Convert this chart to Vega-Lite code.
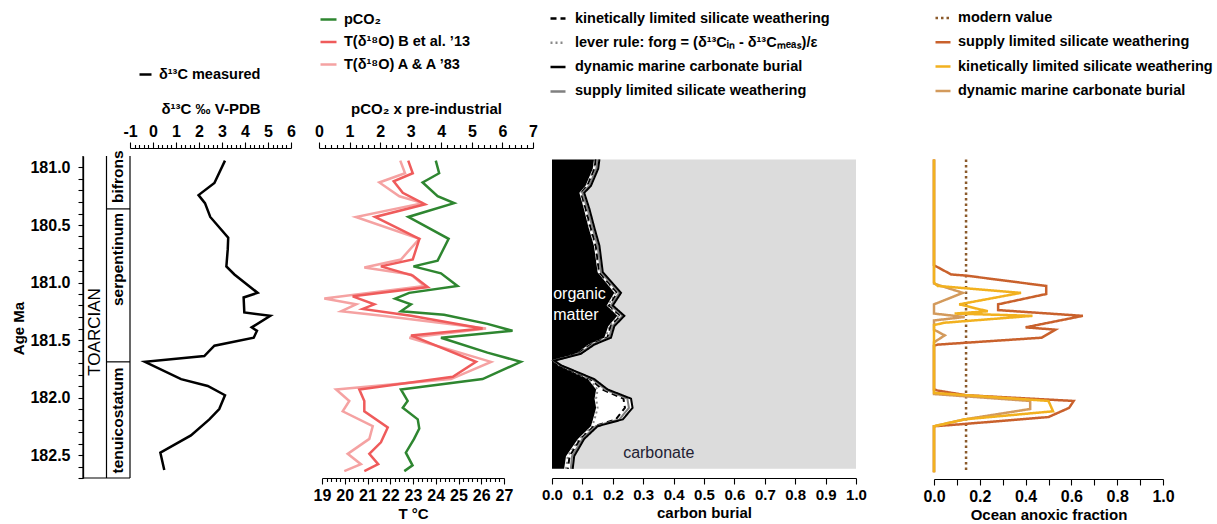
{
  "$schema": "https://vega.github.io/schema/vega-lite/v6.json",
  "background": "white",
  "padding": {"left": 11, "top": 9, "right": 5, "bottom": 2},
  "bounds": "flush",
  "spacing": 0,
  "config": {
    "font": "Liberation Sans",
    "view": {"stroke": null},
    "axis": {"grid": false, "labelFontSize": 16, "labelFontWeight": "bold", "labelColor": "#000", "titleFontSize": 15, "titleFontWeight": "bold", "titleColor": "#000", "domainColor": "#000", "tickColor": "#000", "domainWidth": 1.2, "tickWidth": 1.1, "labelFlush": false, "labelOverlap": false},
    "legend": {"labelFontSize": 14.5, "labelFontWeight": "bold", "labelColor": "#000", "padding": 0, "labelLimit": 500, "symbolStrokeWidth": 3, "symbolType": "stroke", "labelOffset": 6},
    "line": {"strokeWidth": 2.5}
  },
  "resolve": {"scale": {"color": "independent", "strokeDash": "independent"}, "legend": {"color": "independent", "strokeDash": "independent"}},
  "datasets": {
    "strat": [
      {"x": 0, "x2": 0, "age": 179.9, "age2": 182.7},
      {"x": 1, "x2": 1, "age": 179.9, "age2": 182.7},
      {"x": 2, "x2": 2, "age": 179.9, "age2": 182.7},
      {"x": 1, "x2": 2, "age": 180.36, "age2": 180.36},
      {"x": 1, "x2": 2, "age": 181.69, "age2": 181.69},
      {"x": 0, "x2": 2, "age": 182.7, "age2": 182.7}
    ],
    "era": [{"x": 0.5, "age": 181.43, "label": "TOARCIAN"}],
    "zones": [
      {"x": 1.5, "age": 180.08, "label": "bifrons"},
      {"x": 1.5, "age": 180.8, "label": "serpentinum"},
      {"x": 1.5, "age": 182.2, "label": "tenuicostatum"}
    ],
    "d13c": [
      {"age": 179.94, "v": 3.13}, {"age": 180.135, "v": 2.67}, {"age": 180.24, "v": 1.98}, {"age": 180.31, "v": 2.26},
      {"age": 180.43, "v": 2.49}, {"age": 180.61, "v": 3.27}, {"age": 180.71, "v": 3.25}, {"age": 180.86, "v": 3.19},
      {"age": 180.93, "v": 3.54}, {"age": 181.09, "v": 4.55}, {"age": 181.13, "v": 3.94}, {"age": 181.26, "v": 3.97},
      {"age": 181.29, "v": 5.1}, {"age": 181.39, "v": 4.29}, {"age": 181.42, "v": 4.52}, {"age": 181.48, "v": 4.38},
      {"age": 181.55, "v": 2.67}, {"age": 181.64, "v": 2.23}, {"age": 181.69, "v": -0.35}, {"age": 181.84, "v": 1.22},
      {"age": 181.9, "v": 2.38}, {"age": 181.98, "v": 3.13}, {"age": 182.1, "v": 2.88}, {"age": 182.19, "v": 2.45},
      {"age": 182.33, "v": 1.65}, {"age": 182.48, "v": 0.32}, {"age": 182.63, "v": 0.49}
    ],
    "temp": [
      {"s": "T(δ¹⁸O) A & A ’83", "age": 179.94, "T": 22.44}, {"s": "T(δ¹⁸O) A & A ’83", "age": 180.05, "T": 22.65},
      {"s": "T(δ¹⁸O) A & A ’83", "age": 180.13, "T": 21.52}, {"s": "T(δ¹⁸O) A & A ’83", "age": 180.25, "T": 22.4},
      {"s": "T(δ¹⁸O) A & A ’83", "age": 180.31, "T": 23.43}, {"s": "T(δ¹⁸O) A & A ’83", "age": 180.43, "T": 20.49},
      {"s": "T(δ¹⁸O) A & A ’83", "age": 180.62, "T": 23.28}, {"s": "T(δ¹⁸O) A & A ’83", "age": 180.8, "T": 22.47},
      {"s": "T(δ¹⁸O) A & A ’83", "age": 180.87, "T": 20.86}, {"s": "T(δ¹⁸O) A & A ’83", "age": 180.93, "T": 22.91},
      {"s": "T(δ¹⁸O) A & A ’83", "age": 181.03, "T": 23.5}, {"s": "T(δ¹⁸O) A & A ’83", "age": 181.14, "T": 19.1},
      {"s": "T(δ¹⁸O) A & A ’83", "age": 181.19, "T": 20.5}, {"s": "T(δ¹⁸O) A & A ’83", "age": 181.25, "T": 19.84},
      {"s": "T(δ¹⁸O) A & A ’83", "age": 181.29, "T": 21.65}, {"s": "T(δ¹⁸O) A & A ’83", "age": 181.4, "T": 26.21},
      {"s": "T(δ¹⁸O) A & A ’83", "age": 181.48, "T": 22.84}, {"s": "T(δ¹⁸O) A & A ’83", "age": 181.69, "T": 26.43},
      {"s": "T(δ¹⁸O) A & A ’83", "age": 181.84, "T": 24.67}, {"s": "T(δ¹⁸O) A & A ’83", "age": 181.93, "T": 19.62},
      {"s": "T(δ¹⁸O) A & A ’83", "age": 182.03, "T": 20.2}, {"s": "T(δ¹⁸O) A & A ’83", "age": 182.12, "T": 19.91},
      {"s": "T(δ¹⁸O) A & A ’83", "age": 182.25, "T": 21.23}, {"s": "T(δ¹⁸O) A & A ’83", "age": 182.36, "T": 21.08},
      {"s": "T(δ¹⁸O) A & A ’83", "age": 182.49, "T": 20.13}, {"s": "T(δ¹⁸O) A & A ’83", "age": 182.58, "T": 20.71},
      {"s": "T(δ¹⁸O) A & A ’83", "age": 182.64, "T": 19.98},
      {"s": "T(δ¹⁸O) B et al. ’13", "age": 179.94, "T": 22.79}, {"s": "T(δ¹⁸O) B et al. ’13", "age": 180.05, "T": 22.99},
      {"s": "T(δ¹⁸O) B et al. ’13", "age": 180.12, "T": 22.15}, {"s": "T(δ¹⁸O) B et al. ’13", "age": 180.22, "T": 22.55},
      {"s": "T(δ¹⁸O) B et al. ’13", "age": 180.32, "T": 23.53}, {"s": "T(δ¹⁸O) B et al. ’13", "age": 180.43, "T": 21.33},
      {"s": "T(δ¹⁸O) B et al. ’13", "age": 180.62, "T": 23.28}, {"s": "T(δ¹⁸O) B et al. ’13", "age": 180.8, "T": 22.99},
      {"s": "T(δ¹⁸O) B et al. ’13", "age": 180.86, "T": 21.59}, {"s": "T(δ¹⁸O) B et al. ’13", "age": 180.94, "T": 22.99},
      {"s": "T(δ¹⁸O) B et al. ’13", "age": 181.04, "T": 23.65}, {"s": "T(δ¹⁸O) B et al. ’13", "age": 181.12, "T": 20.35},
      {"s": "T(δ¹⁸O) B et al. ’13", "age": 181.19, "T": 21.3}, {"s": "T(δ¹⁸O) B et al. ’13", "age": 181.23, "T": 20.79},
      {"s": "T(δ¹⁸O) B et al. ’13", "age": 181.29, "T": 22.91}, {"s": "T(δ¹⁸O) B et al. ’13", "age": 181.4, "T": 26.06},
      {"s": "T(δ¹⁸O) B et al. ’13", "age": 181.46, "T": 22.91}, {"s": "T(δ¹⁸O) B et al. ’13", "age": 181.69, "T": 25.77},
      {"s": "T(δ¹⁸O) B et al. ’13", "age": 181.82, "T": 24.75}, {"s": "T(δ¹⁸O) B et al. ’13", "age": 181.93, "T": 20.64},
      {"s": "T(δ¹⁸O) B et al. ’13", "age": 182.03, "T": 20.86}, {"s": "T(δ¹⁸O) B et al. ’13", "age": 182.12, "T": 20.86},
      {"s": "T(δ¹⁸O) B et al. ’13", "age": 182.26, "T": 21.89}, {"s": "T(δ¹⁸O) B et al. ’13", "age": 182.39, "T": 21.59},
      {"s": "T(δ¹⁸O) B et al. ’13", "age": 182.49, "T": 21.08}, {"s": "T(δ¹⁸O) B et al. ’13", "age": 182.58, "T": 21.47},
      {"s": "T(δ¹⁸O) B et al. ’13", "age": 182.64, "T": 20.86}
    ],
    "pco2": [
      {"s": "pCO₂", "age": 179.94, "p": 3.82}, {"s": "pCO₂", "age": 180.05, "p": 3.93}, {"s": "pCO₂", "age": 180.13, "p": 3.39},
      {"s": "pCO₂", "age": 180.25, "p": 3.88}, {"s": "pCO₂", "age": 180.31, "p": 4.42}, {"s": "pCO₂", "age": 180.43, "p": 2.92},
      {"s": "pCO₂", "age": 180.62, "p": 4.24}, {"s": "pCO₂", "age": 180.81, "p": 3.88}, {"s": "pCO₂", "age": 180.86, "p": 3.09},
      {"s": "pCO₂", "age": 180.92, "p": 3.99}, {"s": "pCO₂", "age": 181.03, "p": 4.53}, {"s": "pCO₂", "age": 181.09, "p": 2.95},
      {"s": "pCO₂", "age": 181.14, "p": 2.49}, {"s": "pCO₂", "age": 181.19, "p": 3.01}, {"s": "pCO₂", "age": 181.25, "p": 2.68},
      {"s": "pCO₂", "age": 181.28, "p": 4.09}, {"s": "pCO₂", "age": 181.36, "p": 5.51}, {"s": "pCO₂", "age": 181.42, "p": 6.33},
      {"s": "pCO₂", "age": 181.48, "p": 3.99}, {"s": "pCO₂", "age": 181.61, "p": 5.51}, {"s": "pCO₂", "age": 181.69, "p": 6.6},
      {"s": "pCO₂", "age": 181.84, "p": 5.35}, {"s": "pCO₂", "age": 181.93, "p": 2.68}, {"s": "pCO₂", "age": 182.03, "p": 2.9},
      {"s": "pCO₂", "age": 182.09, "p": 2.74}, {"s": "pCO₂", "age": 182.19, "p": 3.23}, {"s": "pCO₂", "age": 182.27, "p": 3.28},
      {"s": "pCO₂", "age": 182.36, "p": 3.11}, {"s": "pCO₂", "age": 182.48, "p": 2.84}, {"s": "pCO₂", "age": 182.59, "p": 3.06},
      {"s": "pCO₂", "age": 182.64, "p": 2.79}
    ],
    "burial": [
      {"age": 179.93, "inner": 0.138, "outer": 0.156, "lever": 0.142, "kin": 0.144, "sup": 0.15, "dyn": 0.156},
      {"age": 180.01, "inner": 0.134, "outer": 0.152, "lever": 0.138, "kin": 0.14, "sup": 0.146, "dyn": 0.152},
      {"age": 180.16, "inner": 0.11, "outer": 0.128, "lever": 0.114, "kin": 0.116, "sup": 0.122, "dyn": 0.128},
      {"age": 180.22, "inner": 0.09, "outer": 0.106, "lever": 0.094, "kin": 0.096, "sup": 0.1, "dyn": 0.106},
      {"age": 180.36, "inner": 0.105, "outer": 0.123, "lever": 0.109, "kin": 0.111, "sup": 0.117, "dyn": 0.123},
      {"age": 180.52, "inner": 0.12, "outer": 0.139, "lever": 0.124, "kin": 0.127, "sup": 0.133, "dyn": 0.139},
      {"age": 180.68, "inner": 0.138, "outer": 0.156, "lever": 0.142, "kin": 0.144, "sup": 0.15, "dyn": 0.156},
      {"age": 180.91, "inner": 0.15, "outer": 0.167, "lever": 0.154, "kin": 0.155, "sup": 0.161, "dyn": 0.167},
      {"age": 181.09, "inner": 0.205, "outer": 0.227, "lever": 0.209, "kin": 0.215, "sup": 0.221, "dyn": 0.227},
      {"age": 181.2, "inner": 0.18, "outer": 0.2, "lever": 0.184, "kin": 0.188, "sup": 0.194, "dyn": 0.2},
      {"age": 181.29, "inner": 0.215, "outer": 0.238, "lever": 0.219, "kin": 0.226, "sup": 0.232, "dyn": 0.238},
      {"age": 181.38, "inner": 0.185, "outer": 0.205, "lever": 0.189, "kin": 0.193, "sup": 0.199, "dyn": 0.205},
      {"age": 181.48, "inner": 0.172, "outer": 0.194, "lever": 0.176, "kin": 0.182, "sup": 0.188, "dyn": 0.194},
      {"age": 181.54, "inner": 0.12, "outer": 0.139, "lever": 0.124, "kin": 0.127, "sup": 0.133, "dyn": 0.139},
      {"age": 181.62, "inner": 0.08, "outer": 0.095, "lever": 0.084, "kin": 0.085, "sup": 0.09, "dyn": 0.095},
      {"age": 181.68, "inner": 0.004, "outer": 0.008, "lever": 0.004, "kin": 0.005, "sup": 0.006, "dyn": 0.008},
      {"age": 181.72, "inner": 0.022, "outer": 0.03, "lever": 0.024, "kin": 0.025, "sup": 0.028, "dyn": 0.03},
      {"age": 181.84, "inner": 0.118, "outer": 0.139, "lever": 0.122, "kin": 0.127, "sup": 0.133, "dyn": 0.139},
      {"age": 181.93, "inner": 0.145, "outer": 0.183, "lever": 0.15, "kin": 0.165, "sup": 0.175, "dyn": 0.183},
      {"age": 182.01, "inner": 0.14, "outer": 0.26, "lever": 0.145, "kin": 0.235, "sup": 0.248, "dyn": 0.26},
      {"age": 182.09, "inner": 0.145, "outer": 0.265, "lever": 0.15, "kin": 0.24, "sup": 0.253, "dyn": 0.265},
      {"age": 182.19, "inner": 0.135, "outer": 0.233, "lever": 0.14, "kin": 0.21, "sup": 0.222, "dyn": 0.233},
      {"age": 182.25, "inner": 0.128, "outer": 0.15, "lever": 0.132, "kin": 0.138, "sup": 0.144, "dyn": 0.15},
      {"age": 182.36, "inner": 0.085, "outer": 0.106, "lever": 0.09, "kin": 0.094, "sup": 0.1, "dyn": 0.106},
      {"age": 182.51, "inner": 0.046, "outer": 0.073, "lever": 0.052, "kin": 0.058, "sup": 0.066, "dyn": 0.073},
      {"age": 182.62, "inner": 0.04, "outer": 0.068, "lever": 0.046, "kin": 0.052, "sup": 0.062, "dyn": 0.068}
    ],
    "burialText": [
      {"age": 181.1, "v": 0.004, "label": "organic\nmatter"},
      {"age": 182.48, "v": 0.234, "label": "carbonate"}
    ],
    "anox": [
      {"s": "modern value", "age": 179.93, "v": 0.14}, {"s": "modern value", "age": 182.65, "v": 0.14},
      {"s": "supply limited silicate weathering", "age": 179.93, "v": 0}, {"s": "supply limited silicate weathering", "age": 180.85, "v": 0},
      {"s": "supply limited silicate weathering", "age": 180.93, "v": 0.075}, {"s": "supply limited silicate weathering", "age": 180.94, "v": 0.14},
      {"s": "supply limited silicate weathering", "age": 181.03, "v": 0.49}, {"s": "supply limited silicate weathering", "age": 181.1, "v": 0.49},
      {"s": "supply limited silicate weathering", "age": 181.19, "v": 0.28}, {"s": "supply limited silicate weathering", "age": 181.24, "v": 0.28},
      {"s": "supply limited silicate weathering", "age": 181.29, "v": 0.65}, {"s": "supply limited silicate weathering", "age": 181.39, "v": 0.4},
      {"s": "supply limited silicate weathering", "age": 181.41, "v": 0.53}, {"s": "supply limited silicate weathering", "age": 181.48, "v": 0.47},
      {"s": "supply limited silicate weathering", "age": 181.54, "v": 0.017}, {"s": "supply limited silicate weathering", "age": 181.55, "v": 0},
      {"s": "supply limited silicate weathering", "age": 181.93, "v": 0}, {"s": "supply limited silicate weathering", "age": 181.94, "v": 0.017},
      {"s": "supply limited silicate weathering", "age": 181.98, "v": 0.14}, {"s": "supply limited silicate weathering", "age": 182.03, "v": 0.61},
      {"s": "supply limited silicate weathering", "age": 182.09, "v": 0.59}, {"s": "supply limited silicate weathering", "age": 182.17, "v": 0.5},
      {"s": "supply limited silicate weathering", "age": 182.23, "v": 0.134}, {"s": "supply limited silicate weathering", "age": 182.25, "v": 0},
      {"s": "supply limited silicate weathering", "age": 182.65, "v": 0},
      {"s": "dynamic marine carbonate burial", "age": 179.93, "v": 0}, {"s": "dynamic marine carbonate burial", "age": 181.01, "v": 0},
      {"s": "dynamic marine carbonate burial", "age": 181.09, "v": 0.126}, {"s": "dynamic marine carbonate burial", "age": 181.19, "v": 0},
      {"s": "dynamic marine carbonate burial", "age": 181.27, "v": 0}, {"s": "dynamic marine carbonate burial", "age": 181.3, "v": 0.134},
      {"s": "dynamic marine carbonate burial", "age": 181.33, "v": 0}, {"s": "dynamic marine carbonate burial", "age": 181.41, "v": 0},
      {"s": "dynamic marine carbonate burial", "age": 181.46, "v": 0.047}, {"s": "dynamic marine carbonate burial", "age": 181.52, "v": 0},
      {"s": "dynamic marine carbonate burial", "age": 181.97, "v": 0}, {"s": "dynamic marine carbonate burial", "age": 182.03, "v": 0.42},
      {"s": "dynamic marine carbonate burial", "age": 182.1, "v": 0.42}, {"s": "dynamic marine carbonate burial", "age": 182.19, "v": 0.134},
      {"s": "dynamic marine carbonate burial", "age": 182.25, "v": 0}, {"s": "dynamic marine carbonate burial", "age": 182.65, "v": 0},
      {"s": "kinetically limited silicate weathering", "age": 179.93, "v": 0}, {"s": "kinetically limited silicate weathering", "age": 181.0, "v": 0},
      {"s": "kinetically limited silicate weathering", "age": 181.03, "v": 0.016}, {"s": "kinetically limited silicate weathering", "age": 181.09, "v": 0.38},
      {"s": "kinetically limited silicate weathering", "age": 181.19, "v": 0.11}, {"s": "kinetically limited silicate weathering", "age": 181.25, "v": 0.235},
      {"s": "kinetically limited silicate weathering", "age": 181.27, "v": 0.09}, {"s": "kinetically limited silicate weathering", "age": 181.29, "v": 0.43},
      {"s": "kinetically limited silicate weathering", "age": 181.35, "v": 0.045}, {"s": "kinetically limited silicate weathering", "age": 181.37, "v": 0},
      {"s": "kinetically limited silicate weathering", "age": 181.96, "v": 0}, {"s": "kinetically limited silicate weathering", "age": 182.03, "v": 0.5},
      {"s": "kinetically limited silicate weathering", "age": 182.12, "v": 0.52}, {"s": "kinetically limited silicate weathering", "age": 182.19, "v": 0.134},
      {"s": "kinetically limited silicate weathering", "age": 182.25, "v": 0}, {"s": "kinetically limited silicate weathering", "age": 182.65, "v": 0}
    ]
  },
  "hconcat": [
    {
      "width": 236, "height": 322,
      "resolve": {"scale": {"x": "independent"}},
      "encoding": {
        "y": {"field": "age", "type": "quantitative",
          "scale": {"domain": [179.9, 182.7], "reverse": true, "nice": false, "zero": false},
          "axis": {"orient": "left", "title": "Age Ma",
            "values": [180, 180.1, 180.2, 180.3, 180.4, 180.5, 180.6, 180.7, 180.8, 180.9, 181, 181.1, 181.2, 181.3, 181.4, 181.5, 181.6, 181.7, 181.8, 181.9, 182, 182.1, 182.2, 182.3, 182.4, 182.5, 182.6, 182.7],
            "labelExpr": "abs(datum.value - 180) < 0.01 ? '181.0' : (abs(datum.value * 2 - round(datum.value * 2)) < 0.01 ? format(datum.value, '.1f') : '')",
            "tickSize": 5, "labelPadding": 8, "labelOverlap": false, "titleAngle": 270, "titleBaseline": "bottom", "titleAlign": "center", "titleX": -57, "titleY": 172, "domainWidth": 1.3}}
      },
      "layer": [
        {"data": {"name": "strat"}, "mark": {"type": "rule", "color": "#000", "strokeWidth": 1.2},
          "encoding": {
            "x": {"field": "x", "type": "quantitative", "scale": {"domain": [0, 2], "range": [0, 47], "nice": false, "zero": false}, "axis": null},
            "x2": {"field": "x2"},
            "y2": {"field": "age2"}}},
        {"data": {"name": "era"}, "mark": {"type": "text", "angle": 270, "fontSize": 17, "color": "#000", "align": "center", "baseline": "middle"},
          "encoding": {
            "x": {"field": "x", "type": "quantitative", "scale": {"domain": [0, 2], "range": [0, 47], "nice": false, "zero": false}, "axis": null},
            "text": {"field": "label"}}},
        {"data": {"name": "zones"}, "mark": {"type": "text", "angle": 270, "fontSize": 15.5, "fontWeight": "bold", "color": "#000", "align": "center", "baseline": "middle"},
          "encoding": {
            "x": {"field": "x", "type": "quantitative", "scale": {"domain": [0, 2], "range": [0, 47], "nice": false, "zero": false}, "axis": null},
            "text": {"field": "label"}}},
        {"data": {"name": "d13c"}, "mark": {"type": "line", "strokeWidth": 2.5},
          "encoding": {
            "x": {"field": "v", "type": "quantitative", "scale": {"domain": [-1, 6], "range": [47, 208], "nice": false, "zero": false},
              "axis": {"orient": "top", "title": "δ¹³C ‰ V-PDB", "offset": 8,
                "values": [-1, -0.8, -0.6, -0.4, -0.2, 0, 0.2, 0.4, 0.6, 0.8, 1, 1.2, 1.4, 1.6, 1.8, 2, 2.2, 2.4, 2.6, 2.8, 3, 3.2, 3.4, 3.6, 3.8, 4, 4.2, 4.4, 4.6, 4.8, 5, 5.2, 5.4, 5.6, 5.8, 6],
                "labelExpr": "abs(datum.value - round(datum.value)) < 0.01 ? '' + round(datum.value) : ''",
                "tickSize": {"condition": {"test": "abs(datum.value - round(datum.value)) < 0.01", "value": 6}, "value": 3.5},
                "labelPadding": 3, "titlePadding": 7, "labelOverlap": false}},
            "order": {"field": "age", "type": "quantitative"},
            "color": {"datum": "δ¹³C measured", "type": "nominal", "scale": {"domain": ["δ¹³C measured"], "range": ["#000000"]},
              "legend": {"title": null, "orient": "none", "legendX": 55, "legendY": -89, "symbolSize": 144}}}}
      ]
    },
    {
      "width": 233, "height": 322,
      "resolve": {"scale": {"x": "independent"}},
      "encoding": {
        "y": {"field": "age", "type": "quantitative", "scale": {"domain": [179.9, 182.7], "reverse": true, "nice": false, "zero": false}, "axis": null}
      },
      "layer": [
        {"data": {"name": "temp"}, "mark": {"type": "line", "strokeWidth": 2.5},
          "encoding": {
            "x": {"field": "T", "type": "quantitative", "scale": {"domain": [19, 27], "range": [3, 185], "nice": false, "zero": false},
              "axis": {"orient": "bottom", "title": "T °C",
                "values": [19, 19.2, 19.4, 19.6, 19.8, 20, 20.2, 20.4, 20.6, 20.8, 21, 21.2, 21.4, 21.6, 21.8, 22, 22.2, 22.4, 22.6, 22.8, 23, 23.2, 23.4, 23.6, 23.8, 24, 24.2, 24.4, 24.6, 24.8, 25, 25.2, 25.4, 25.6, 25.8, 26, 26.2, 26.4, 26.6, 26.8, 27],
                "labelExpr": "abs(datum.value - round(datum.value)) < 0.01 ? '' + round(datum.value) : ''",
                "tickSize": {"condition": {"test": "abs(datum.value - round(datum.value)) < 0.01", "value": 6}, "value": 3.5},
                "labelPadding": 3, "titlePadding": 3, "labelOverlap": false}},
            "order": {"field": "age", "type": "quantitative"},
            "color": {"field": "s", "type": "nominal",
              "scale": {"domain": ["pCO₂", "T(δ¹⁸O) B et al. ’13", "T(δ¹⁸O) A & A ’83"], "range": ["#2e8630", "#ef5b5b", "#f5a2a2"]},
              "legend": {"title": null, "orient": "none", "legendX": 0, "legendY": -146, "symbolSize": 256, "rowPadding": 6.5, "labelOffset": 6,
                "encode": {"labels": {"update": {"fontStyle": {"signal": "datum.label === 'pCO₂' ? 'italic' : 'normal'"}}}}}}}},
        {"data": {"name": "pco2"}, "mark": {"type": "line", "strokeWidth": 2.5},
          "encoding": {
            "x": {"field": "p", "type": "quantitative", "scale": {"domain": [0, 7], "range": [0, 214], "nice": false, "zero": false},
              "axis": {"orient": "top", "title": "pCO₂ x pre-industrial", "offset": 8,
                "values": [0, 0.2, 0.4, 0.6, 0.8, 1, 1.2, 1.4, 1.6, 1.8, 2, 2.2, 2.4, 2.6, 2.8, 3, 3.2, 3.4, 3.6, 3.8, 4, 4.2, 4.4, 4.6, 4.8, 5, 5.2, 5.4, 5.6, 5.8, 6, 6.2, 6.4, 6.6, 6.8, 7],
                "labelExpr": "abs(datum.value - round(datum.value)) < 0.01 ? '' + round(datum.value) : ''",
                "tickSize": {"condition": {"test": "abs(datum.value - round(datum.value)) < 0.01", "value": 6}, "value": 3.5},
                "labelPadding": 3, "titlePadding": 7, "labelOverlap": false}},
            "order": {"field": "age", "type": "quantitative"},
            "color": {"field": "s", "type": "nominal",
              "scale": {"domain": ["pCO₂", "T(δ¹⁸O) B et al. ’13", "T(δ¹⁸O) A & A ’83"], "range": ["#2e8630", "#ef5b5b", "#f5a2a2"]},
              "legend": {"title": null, "orient": "none", "legendX": 0, "legendY": -146, "symbolSize": 256, "rowPadding": 6.5, "labelOffset": 6,
                "encode": {"labels": {"update": {"fontStyle": {"signal": "datum.label === 'pCO₂' ? 'italic' : 'normal'"}}}}}}}}
      ]
    },
    {
      "width": 304, "height": 322,
      "encoding": {
        "y": {"field": "age", "type": "quantitative", "scale": {"domain": [179.9, 182.7], "reverse": true, "nice": false, "zero": false}, "axis": null}
      },
      "layer": [
        {"data": {"name": "burial"}, "mark": {"type": "area", "orient": "horizontal", "color": "#dcdcdc"},
          "encoding": {
            "x": {"field": "outer", "type": "quantitative", "stack": null, "scale": {"domain": [0, 1], "nice": false, "zero": false},
              "axis": {"orient": "bottom", "title": "carbon burial", "values": [0, 0.1, 0.2, 0.3, 0.4, 0.5, 0.6, 0.7, 0.8, 0.9, 1], "labelExpr": "format(datum.value, '.1f')", "labelFontSize": 15, "tickSize": 6, "labelPadding": 3, "titlePadding": 3, "labelOverlap": false, "labelSeparation": 0}},
            "x2": {"datum": 1}}},
        {"data": {"name": "burial"}, "mark": {"type": "area", "orient": "horizontal", "color": "#000000"},
          "encoding": {
            "x": {"field": "inner", "type": "quantitative", "stack": null,
              "axis": {"orient": "bottom", "title": "carbon burial", "values": [0, 0.1, 0.2, 0.3, 0.4, 0.5, 0.6, 0.7, 0.8, 0.9, 1], "labelExpr": "format(datum.value, '.1f')", "labelFontSize": 15, "tickSize": 6, "labelPadding": 3, "titlePadding": 3, "labelOverlap": false, "labelSeparation": 0}},
            "x2": {"datum": 0}}},
        {"data": {"name": "burial"}, "transform": [{"fold": ["lever", "kin", "sup", "dyn"], "as": ["s", "v"]}],
          "mark": {"type": "line", "strokeWidth": 2},
          "encoding": {
            "x": {"field": "v", "type": "quantitative",
              "axis": {"orient": "bottom", "title": "carbon burial", "values": [0, 0.1, 0.2, 0.3, 0.4, 0.5, 0.6, 0.7, 0.8, 0.9, 1], "labelExpr": "format(datum.value, '.1f')", "labelFontSize": 15, "tickSize": 6, "labelPadding": 3, "titlePadding": 3, "labelOverlap": false, "labelSeparation": 0}},
            "order": {"field": "age", "type": "quantitative"},
            "color": {"field": "s", "type": "nominal", "scale": {"domain": ["kin", "lever", "dyn", "sup"], "range": ["#000000", "#8a8a8a", "#000000", "#808080"]},
              "legend": {"title": null, "orient": "none", "legendX": -3, "legendY": -146.5, "symbolSize": 225, "rowPadding": 8.3, "labelOffset": 8,
                "labelExpr": "datum.label === 'kin' ? 'kinetically limited silicate weathering' : datum.label === 'lever' ? 'lever rule: forg = (δ¹³Cᵢₙ - δ¹³Cₘₑₐₛ)/ε' : datum.label === 'dyn' ? 'dynamic marine carbonate burial' : 'supply limited silicate weathering'"}},
            "strokeDash": {"field": "s", "type": "nominal", "scale": {"domain": ["kin", "lever", "dyn", "sup"], "range": [[6, 4], [2, 3], [1, 0], [1, 0]]},
              "legend": {"title": null, "orient": "none", "legendX": -3, "legendY": -146.5, "symbolSize": 225, "rowPadding": 8.3, "labelOffset": 8,
                "labelExpr": "datum.label === 'kin' ? 'kinetically limited silicate weathering' : datum.label === 'lever' ? 'lever rule: forg = (δ¹³Cᵢₙ - δ¹³Cₘₑₐₛ)/ε' : datum.label === 'dyn' ? 'dynamic marine carbonate burial' : 'supply limited silicate weathering'"}}}},
        {"data": {"name": "burialText"}, "transform": [{"filter": "datum.label !== 'carbonate'"}],
          "mark": {"type": "text", "align": "left", "baseline": "middle", "fontSize": 16, "color": "#ffffff", "lineBreak": "\n", "lineHeight": 21},
          "encoding": {"x": {"field": "v", "type": "quantitative",
              "axis": {"orient": "bottom", "title": "carbon burial", "values": [0, 0.1, 0.2, 0.3, 0.4, 0.5, 0.6, 0.7, 0.8, 0.9, 1], "labelExpr": "format(datum.value, '.1f')", "labelFontSize": 15, "tickSize": 6, "labelPadding": 3, "titlePadding": 3, "labelOverlap": false, "labelSeparation": 0}},
            "text": {"field": "label"}}},
        {"data": {"name": "burialText"}, "transform": [{"filter": "datum.label === 'carbonate'"}],
          "mark": {"type": "text", "align": "left", "baseline": "middle", "fontSize": 16, "color": "#222233"},
          "encoding": {"x": {"field": "v", "type": "quantitative",
              "axis": {"orient": "bottom", "title": "carbon burial", "values": [0, 0.1, 0.2, 0.3, 0.4, 0.5, 0.6, 0.7, 0.8, 0.9, 1], "labelExpr": "format(datum.value, '.1f')", "labelFontSize": 15, "tickSize": 6, "labelPadding": 3, "titlePadding": 3, "labelOverlap": false, "labelSeparation": 0}},
            "text": {"field": "label"}}}
      ]
    },
    {
      "width": 310, "height": 322,
      "data": {"name": "anox"},
      "mark": {"type": "line", "strokeWidth": 2.5},
      "encoding": {
        "y": {"field": "age", "type": "quantitative", "scale": {"domain": [179.9, 182.7], "reverse": true, "nice": false, "zero": false}, "axis": null},
        "x": {"field": "v", "type": "quantitative", "scale": {"domain": [0, 1], "range": [78, 307], "nice": false, "zero": false},
          "axis": {"orient": "bottom", "title": "Ocean anoxic fraction", "values": [0, 0.1, 0.2, 0.3, 0.4, 0.5, 0.6, 0.7, 0.8, 0.9, 1],
            "labelExpr": "abs(datum.value * 5 - round(datum.value * 5)) < 0.01 ? format(datum.value, '.1f') : ''",
            "tickSize": 6, "labelPadding": 3, "titlePadding": 3, "offset": 1, "labelOverlap": false}},
        "order": {"field": "age", "type": "quantitative"},
        "color": {"field": "s", "type": "nominal",
          "scale": {"domain": ["modern value", "supply limited silicate weathering", "kinetically limited silicate weathering", "dynamic marine carbonate burial"], "range": ["#8b5a2b", "#c9612c", "#f2b11f", "#d39a5c"]},
          "legend": {"title": null, "orient": "none", "legendX": 78, "legendY": -147, "symbolSize": 225, "rowPadding": 8.3, "labelOffset": 6}},
        "strokeDash": {"field": "s", "type": "nominal",
          "scale": {"domain": ["modern value", "supply limited silicate weathering", "kinetically limited silicate weathering", "dynamic marine carbonate burial"], "range": [[2.5, 3], [1, 0], [1, 0], [1, 0]]},
          "legend": {"title": null, "orient": "none", "legendX": 78, "legendY": -147, "symbolSize": 225, "rowPadding": 8.3, "labelOffset": 6}}
      }
    }
  ]
}
